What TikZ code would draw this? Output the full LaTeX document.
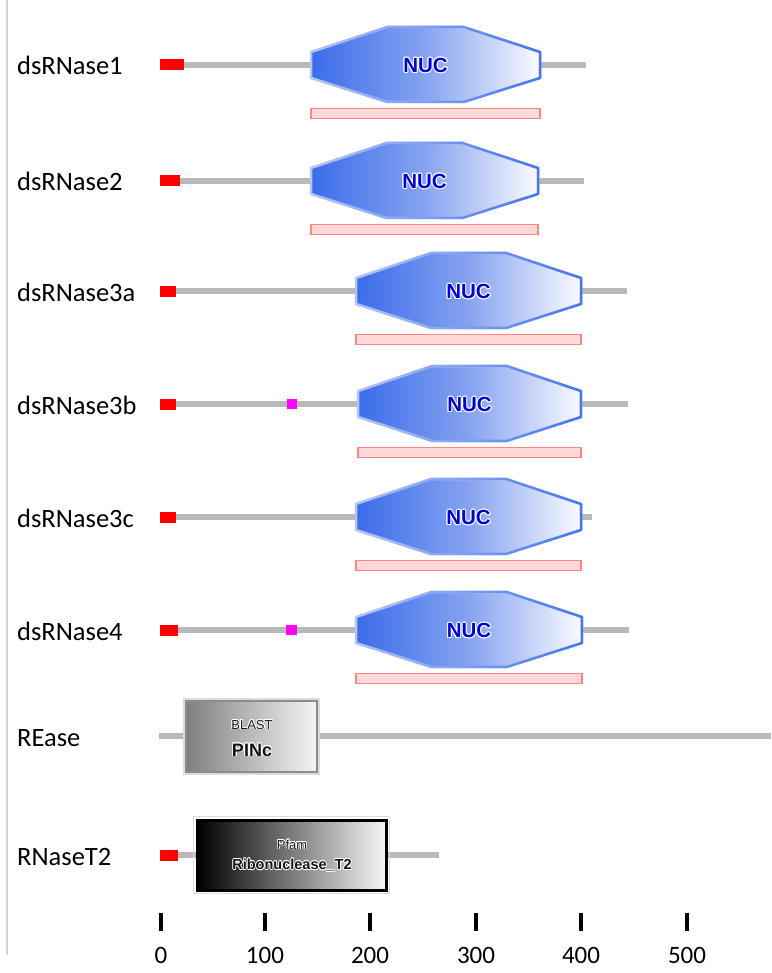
\documentclass[tikz,border=0pt]{standalone}
\usepackage{fontspec}
\setmainfont{Carlito}
\newfontfamily\arialfont{Liberation Sans}
\usepackage{contour}
\usetikzlibrary{fadings}

\definecolor{bbgrey}{HTML}{B9B9B9}
\definecolor{sigred}{HTML}{FF0000}
\definecolor{tmmag}{HTML}{FF00FF}
\definecolor{nucdark}{HTML}{3B6CEA}
\definecolor{nucmid}{HTML}{86A3F0}
\definecolor{nucwhite}{HTML}{FAFBFF}
\definecolor{nucrimpale}{HTML}{B2C6F6}
\definecolor{nucrimdark}{HTML}{4677EE}
\definecolor{nuctext}{HTML}{0000D2}
\definecolor{barfill}{HTML}{FFD9D9}
\definecolor{baredge}{HTML}{FF8585}
\definecolor{frameline}{HTML}{D4D4D4}
\definecolor{boxrim}{HTML}{DCDCDC}

\contourlength{1pt}
\contournumber{12}

\tikzset{
  backbone/.style={draw=bbgrey, line width=6pt},
  sigpep/.style={fill=sigred},
  tmseg/.style={fill=tmmag},
  rowlabel/.style={anchor=base west, inner sep=0pt, font=\fontsize{26.5}{30}\selectfont},
  axislabel/.style={anchor=base, inner sep=0pt, font=\fontsize{25}{30}\selectfont},
  tickmark/.style={draw=black, line width=4pt},
  nuclabel/.style={anchor=base, inner sep=0pt, text=nuctext,
    font=\arialfont\bfseries\fontsize{20.5}{24}\selectfont},
  pinkbar/.style={draw=baredge, fill=barfill, line width=1.5pt},
  nucrim/.style={draw=nucrimpale, line width=2.5pt, line join=round},
  nucrimstrong/.style={draw=nucrimdark, line width=2.5pt, line join=round, path fading=west},
  smalltag/.style={anchor=base, inner sep=0pt, text=black!90,
    font=\arialfont\fontsize{13}{15}\selectfont},
  bigtag/.style={anchor=base, inner sep=0pt, text=black!92,
    font=\arialfont\bfseries\fontsize{18}{20}\selectfont},
  midtag/.style={anchor=base, inner sep=0pt, text=black!92,
    font=\arialfont\bfseries\fontsize{14.5}{17}\selectfont},
}

% NUC domain: name, left x, right x, centre line y
\newcommand{\nucdomain}[4]{%
  \pgfmathsetmacro{\nxa}{#2+(#3-#2)/3}%
  \pgfmathsetmacro{\nxb}{#3-(#3-#2)/3}%
  \pgfmathsetmacro{\nxm}{(#2+#3)/2}%
  \shade[left color=nucdark, right color=nucwhite, middle color=nucmid]
    (#2,#4-13) -- (\nxa,#4-38) -- (\nxb,#4-38) -- (#3,#4-13) --
    (#3,#4+13) -- (\nxb,#4+37) -- (\nxa,#4+37) -- (#2,#4+13) -- cycle;
  \draw[nucrim]
    (#2,#4-13) -- (\nxa,#4-38) -- (\nxb,#4-38) -- (#3,#4-13) --
    (#3,#4+13) -- (\nxb,#4+37) -- (\nxa,#4+37) -- (#2,#4+13) -- cycle;
  \draw[nucrimstrong]
    (#2,#4-13) -- (\nxa,#4-38) -- (\nxb,#4-38) -- (#3,#4-13) --
    (#3,#4+13) -- (\nxb,#4+37) -- (\nxa,#4+37) -- (#2,#4+13) -- cycle;
  \node[nuclabel] (#1) at (\nxm,#4+7.5) {\contour{white}{NUC}};
  \draw[pinkbar] (#2,#4+43.5) rectangle (#3,#4+53.5);
}

\begin{document}
\begin{tikzpicture}[x=1pt, y=-1pt]
  \useasboundingbox (0,0) rectangle (771,973);
  \fill[white] (0,0) rectangle (771,973);

  % left frame line
  \draw[frameline, line width=1.5pt] (7,0) -- (7,955);

  % row labels
  \node[rowlabel] (l1) at (17,75)  {dsRNase1};
  \node[rowlabel] (l2) at (17,191) {dsRNase2};
  \node[rowlabel] (l3) at (17,301) {dsRNase3a};
  \node[rowlabel] (l4) at (17,414) {dsRNase3b};
  \node[rowlabel] (l5) at (17,527) {dsRNase3c};
  \node[rowlabel] (l6) at (17,640) {dsRNase4};
  \node[rowlabel] (l7) at (17,746) {REase};
  \node[rowlabel] (l8) at (17,865) {RNaseT2};

  % backbones
  \draw[backbone] (160,65)  -- (586,65);
  \draw[backbone] (160,181) -- (584,181);
  \draw[backbone] (160,291) -- (627,291);
  \draw[backbone] (160,404) -- (628,404);
  \draw[backbone] (160,517) -- (592,517);
  \draw[backbone] (160,630) -- (629,630);
  \draw[backbone] (159,736) -- (771,736);
  \draw[backbone] (160,855) -- (439,855);

  % signal peptides
  \fill[sigpep] (160,59.5)  rectangle (184,70.5);
  \fill[sigpep] (160,175.5) rectangle (180,186.5);
  \fill[sigpep] (160,285.5) rectangle (176,296.5);
  \fill[sigpep] (160,398.5) rectangle (176,409.5);
  \fill[sigpep] (160,511.5) rectangle (176,522.5);
  \fill[sigpep] (160,624.5) rectangle (178,635.5);
  \fill[sigpep] (160,849.5) rectangle (178,860.5);

  % low complexity segments
  \fill[tmseg] (287,399) rectangle (297,409);
  \fill[tmseg] (286,625) rectangle (297,635);

  % NUC domains
  \nucdomain{nuc1}{311}{540}{65}
  \nucdomain{nuc2}{311}{538}{181}
  \nucdomain{nuc3}{356}{581}{291}
  \nucdomain{nuc4}{358}{581}{404}
  \nucdomain{nuc5}{356}{581}{517}
  \nucdomain{nuc6}{356}{582}{630}

  % BLAST PINc box
  \draw[boxrim, line width=2pt] (184,699) rectangle (319,774);
  \shade[left color=black!50, right color=white!96!black] (186,701) rectangle (317,772);
  \draw[black!45, line width=2pt] (186,701) rectangle (317,772);
  \node[smalltag] (blast) at (252,729) {\contourlength{0.8pt}\contour{white}{BLAST}};
  \node[bigtag] (pinc) at (252,756) {\contourlength{0.9pt}\contour{white}{PINc}};

  % Pfam Ribonuclease_T2 box
  \draw[boxrim, line width=1.5pt] (193.5,816.5) rectangle (389.5,893.5);
  \shade[left color=black, right color=white!97!black] (197.5,820) rectangle (386,890);
  \draw[black, line width=3pt] (197.5,820) rectangle (386,890);
  \node[smalltag] (pfam) at (292,849) {\contourlength{0.7pt}\contour{white}{Pfam}};
  \node[midtag] (rnt2) at (292,869.5) {\contourlength{0.7pt}\contour{white}{Ribonuclease\_T2}};

  % scale
  \foreach \t/\xx in {0/161, 100/265, 200/370, 300/476, 400/581, 500/687} {
    \coordinate (tk\t a) at (\xx,913);
    \coordinate (tk\t b) at (\xx,931);
    \draw[tickmark] (tk\t a) -- (tk\t b);
    \node[axislabel] (ax\t) at (\xx,963) {\t};
  }
\end{tikzpicture}
\end{document}
